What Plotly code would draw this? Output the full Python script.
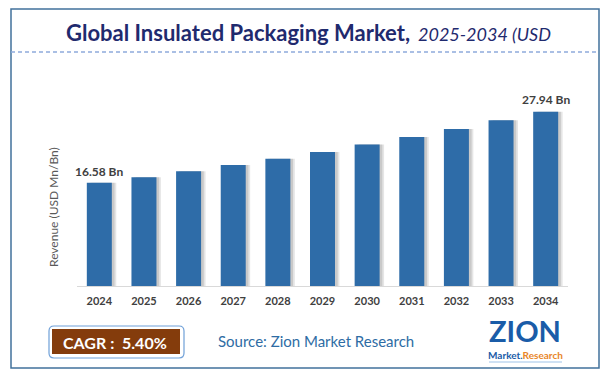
import plotly.graph_objects as go

years = ["2024", "2025", "2026", "2027", "2028", "2029", "2030", "2031", "2032", "2033", "2034"]
revenue = [16.58, 17.45, 18.40, 19.40, 20.40, 21.50, 22.70, 23.90, 25.20, 26.60, 27.94]
label_first = "16.58 Bn"
label_last = "27.94 Bn"
title_bold = "Global Insulated Packaging Market,"
title_ital = "2025-2034 (USD"
y_title = "Revenue (USD Mn/Bn)"
cagr_text = "CAGR :  5.40%"
source_text = "Source: Zion Market Research"

FONT = "Lato"
WIDTH, HEIGHT = 611, 381
L, R, T, B = 77, 43, 99, 95
W = WIDTH - L - R
H = HEIGHT - T - B


def px(x):
    return (x - L) / W


def py(y):
    return (T + H - y) / H


fig = go.Figure()

# soft shadow to the right of each bar
for off, alpha in [(0.10, 0.10), (0.06, 0.12)]:
    fig.add_trace(go.Bar(
        x=years, y=revenue, width=0.56, offset=-0.28 + off,
        marker=dict(color=f"rgba(0,0,0,{alpha})", line=dict(width=0)),
        hoverinfo="skip", showlegend=False,
    ))

fig.add_trace(go.Bar(
    x=years, y=revenue, width=0.56, offset=-0.28,
    marker=dict(color="#2e6ca8", line=dict(width=0)),
    showlegend=False,
))

annotations = [
    dict(x=0, y=revenue[0], xref="x", yref="y", text=f"<b>{label_first}</b>",
         showarrow=False, yshift=11, yanchor="middle",
         font=dict(family=FONT, size=12, color="#404040")),
    dict(x=len(years) - 1, y=revenue[-1], xref="x", yref="y", text=f"<b>{label_last}</b>",
         showarrow=False, yshift=12, yanchor="middle",
         font=dict(family=FONT, size=12, color="#404040")),
    dict(x=px(53), y=py(207), xref="paper", yref="paper", text=y_title, textangle=-90,
         showarrow=False, xanchor="center", yanchor="middle",
         font=dict(family=FONT, size=12, color="#595959")),
    dict(x=px(412), y=py(33), xref="paper", yref="paper", text=f"<b>{title_bold}</b>",
         showarrow=False, xanchor="right", yanchor="middle",
         font=dict(family=FONT, size=22, color="#1f2a6e")),
    dict(x=px(416), y=py(34), xref="paper", yref="paper", text=f"<i>{title_ital}</i>",
         showarrow=False, xanchor="left", yanchor="middle",
         font=dict(family=FONT, size=18, color="#1f2a6e")),
    dict(x=px(115), y=py(342), xref="paper", yref="paper", text=f"<b>{cagr_text}</b>",
         showarrow=False, xanchor="center", yanchor="middle",
         font=dict(family=FONT, size=16, color="#ffffff")),
    dict(x=px(316), y=py(341), xref="paper", yref="paper", text=source_text,
         showarrow=False, xanchor="center", yanchor="middle",
         font=dict(family=FONT, size=15, color="#2e6ca4")),
    dict(x=px(525), y=py(350), xref="paper", yref="paper", text="<b>ZION</b>",
         showarrow=False, xanchor="center", yanchor="bottom",
         font=dict(family=FONT, size=29, color="#1a5ca8")),
    dict(x=px(525), y=py(355), xref="paper", yref="paper",
         text="<b>Market.<span style='color:#e8862a'>Research</span></b>",
         showarrow=False, xanchor="center", yanchor="middle",
         font=dict(family=FONT, size=10, color="#1a5ca8")),
]


def rrect(x0, y0, x1, y1, r):
    a0, a1 = px(x0), px(x1)
    b0, b1 = py(y1), py(y0)
    rx, ry = r / W, r / H
    return (f"M {a0+rx},{b0} L {a1-rx},{b0} Q {a1},{b0} {a1},{b0+ry} "
            f"L {a1},{b1-ry} Q {a1},{b1} {a1-rx},{b1} L {a0+rx},{b1} "
            f"Q {a0},{b1} {a0},{b1-ry} L {a0},{b0+ry} Q {a0},{b0} {a0+rx},{b0} Z")


shapes = [
    dict(type="rect", xref="paper", yref="paper", x0=px(11), x1=px(599), y0=py(368), y1=py(9),
         line=dict(color="#41719c", width=1.5), fillcolor="rgba(0,0,0,0)", layer="below"),
    dict(type="line", xref="paper", yref="paper", x0=px(11), x1=px(599), y0=py(52), y1=py(52),
         line=dict(color="#8eaadb", width=1.5, dash="4px,3px")),
    dict(type="path", xref="paper", yref="paper", path=rrect(49, 326, 184, 358, 5),
         line=dict(color="#6fa0d8", width=1.2), fillcolor="#ffffff"),
    dict(type="rect", xref="paper", yref="paper", x0=px(52), x1=px(180), y0=py(354), y1=py(329),
         line=dict(width=0), fillcolor="#843c0c"),
    dict(type="line", xref="paper", yref="paper", x0=px(489), x1=px(562), y0=py(362), y1=py(362),
         line=dict(color="#9fc3e8", width=1)),
]

fig.update_layout(
    width=WIDTH, height=HEIGHT,
    margin=dict(l=L, r=R, t=T, b=B, pad=0),
    paper_bgcolor="#ffffff", plot_bgcolor="#ffffff",
    barmode="overlay",
    font=dict(family=FONT),
    xaxis=dict(type="category", range=[-0.5, 10.5], showline=True, linecolor="#d9d9d9",
               linewidth=1, showgrid=False, ticks="outside", ticklen=5,
               tickcolor="rgba(0,0,0,0)", tickfont=dict(family=FONT, size=11, color="#404040"),
               tickprefix="<b>", ticksuffix="</b>", fixedrange=True),
    yaxis=dict(range=[0, 30], visible=False, fixedrange=True),
    annotations=annotations,
    shapes=shapes,
)

fig.write_html("out.html", config={"displayModeBar": False},
               post_script="document.body.style.margin='0';")
